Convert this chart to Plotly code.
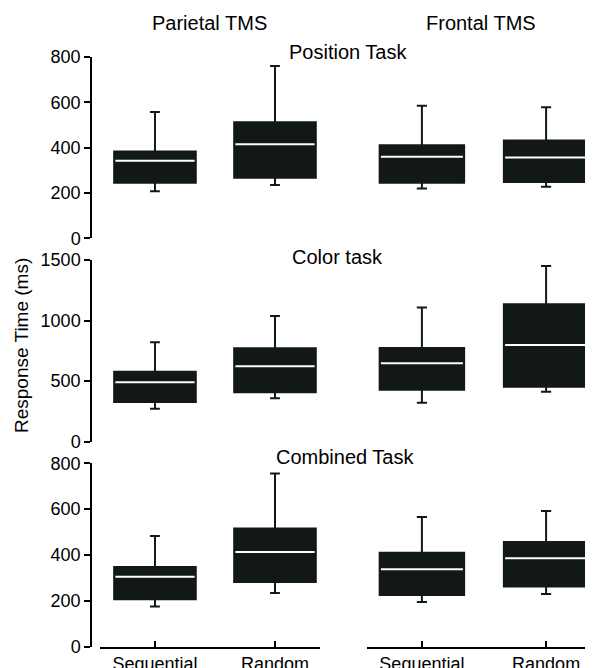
import plotly.graph_objects as go

# ---- data ----
tasks = ["Position Task", "Color task", "Combined Task"]
conditions = ["Sequential", "Random"]
sites = ["Parietal TMS", "Frontal TMS"]

# each list: [task][condition]
parietal_lower = [[208, 235], [273, 358], [175, 234]]
parietal_q1 = [[245, 267], [328, 408], [207, 282]]
parietal_median = [[342, 415], [490, 622], [305, 413]]
parietal_q3 = [[383, 512], [578, 771], [348, 516]]
parietal_upper = [[557, 760], [821, 1038], [483, 755]]

frontal_lower = [[220, 227], [322, 413], [195, 230]]
frontal_q1 = [[245, 248], [429, 454], [226, 263]]
frontal_median = [[360, 357], [647, 798], [338, 386]]
frontal_q3 = [[411, 432], [774, 1134], [410, 457]]
frontal_upper = [[585, 578], [1107, 1451], [566, 592]]

y_max = [800, 1500, 800]
y_ticks = [[0, 200, 400, 600, 800], [0, 500, 1000, 1500], [0, 200, 400, 600, 800]]

# ---- styling ----
W, H = 593, 668
OFF = 8  # page body margin offset
FONT = "Liberation Sans, Arial, Helvetica, sans-serif"
BOX = "#121818"
box_w = 0.68
positions = [0, 1]


def px(xw):
    return (xw - OFF) / W


def py(yw):
    return 1 - (yw - OFF) / H


x_dom = [[px(100), px(320)], [px(367), min(1.0, px(601))]]
x_rng = [[-0.458, 1.375], [-0.442, 1.442]]
y_dom = [
    [py(238.3), py(57)],
    [py(441.7), py(260)],
    [py(646.7), py(463.3)],
]

fig = go.Figure()
site_stats = [
    (parietal_lower, parietal_q1, parietal_median, parietal_q3, parietal_upper),
    (frontal_lower, frontal_q1, frontal_median, frontal_q3, frontal_upper),
]

layout = {}
for r in range(3):
    for c in range(2):
        idx = r * 2 + c + 1
        xs = "" if idx == 1 else str(idx)
        lo, q1, med, q3, up = site_stats[c]
        fig.add_trace(go.Box(
            x=positions, lowerfence=lo[r], q1=q1[r], median=med[r], q3=q3[r],
            upperfence=up[r], width=box_w, whiskerwidth=0.12,
            fillcolor=BOX, line=dict(color=BOX, width=2),
            xaxis="x" + xs, yaxis="y" + xs, showlegend=False, hoverinfo="skip",
        ))
        # white median lines
        mx, my = [], []
        for p, m in zip(positions, med[r]):
            mx += [p - box_w / 2 + 0.01, p + box_w / 2 - 0.01, None]
            my += [m, m, None]
        fig.add_trace(go.Scatter(
            x=mx, y=my, mode="lines", line=dict(color="white", width=2),
            xaxis="x" + xs, yaxis="y" + xs, showlegend=False, hoverinfo="skip",
        ))
        bottom = (r == 2)
        layout["xaxis" + xs] = dict(
            domain=x_dom[c], range=x_rng[c], anchor="y" + xs,
            visible=bottom, showline=bottom, linecolor="black", linewidth=1.5,
            tickvals=positions, ticktext=conditions, ticks="inside",
            ticklen=6, tickwidth=1.5, tickcolor="black",
            showgrid=False, zeroline=False, fixedrange=True, automargin=False,
            tickfont=dict(family=FONT, size=18, color="black"),
        )
        if c == 0:
            layout["yaxis" + xs] = dict(
                domain=y_dom[r], range=[0, y_max[r]], anchor="free",
                position=px(91), showline=True, linecolor="black",
                linewidth=1.5, ticks="outside", ticklen=6, tickwidth=1.5,
                tickcolor="black", tickvals=y_ticks[r], showgrid=False,
                zeroline=False, fixedrange=True, automargin=False,
                tickfont=dict(family=FONT, size=18, color="black"),
            )
        else:
            layout["yaxis" + xs] = dict(
                domain=y_dom[r], range=[0, y_max[r]], anchor="x" + xs,
                visible=False, showgrid=False, zeroline=False, automargin=False,
            )

ann = []
for s, xp in zip(sites, [209, 481]):
    ann.append(dict(text=s, x=px(xp), y=py(23), xref="paper", yref="paper",
                    showarrow=False, xanchor="center", yanchor="middle",
                    font=dict(family=FONT, size=20, color="black")))
for t, xp, yp in zip(tasks, [348, 337, 345], [52, 257, 457]):
    ann.append(dict(text=t, x=px(xp), y=py(yp), xref="paper", yref="paper",
                    showarrow=False, xanchor="center", yanchor="middle",
                    font=dict(family=FONT, size=20, color="black")))
ann.append(dict(text="Response Time (ms)", x=px(21), y=py(346),
                xref="paper", yref="paper", showarrow=False, textangle=-90,
                xanchor="center", yanchor="middle",
                font=dict(family=FONT, size=19, color="black")))

fig.update_layout(
    width=W, height=H, margin=dict(l=0, r=0, t=0, b=0, autoexpand=False),
    paper_bgcolor="white", plot_bgcolor="white",
    annotations=ann, **layout,
)

fig.write_html("out.html")
